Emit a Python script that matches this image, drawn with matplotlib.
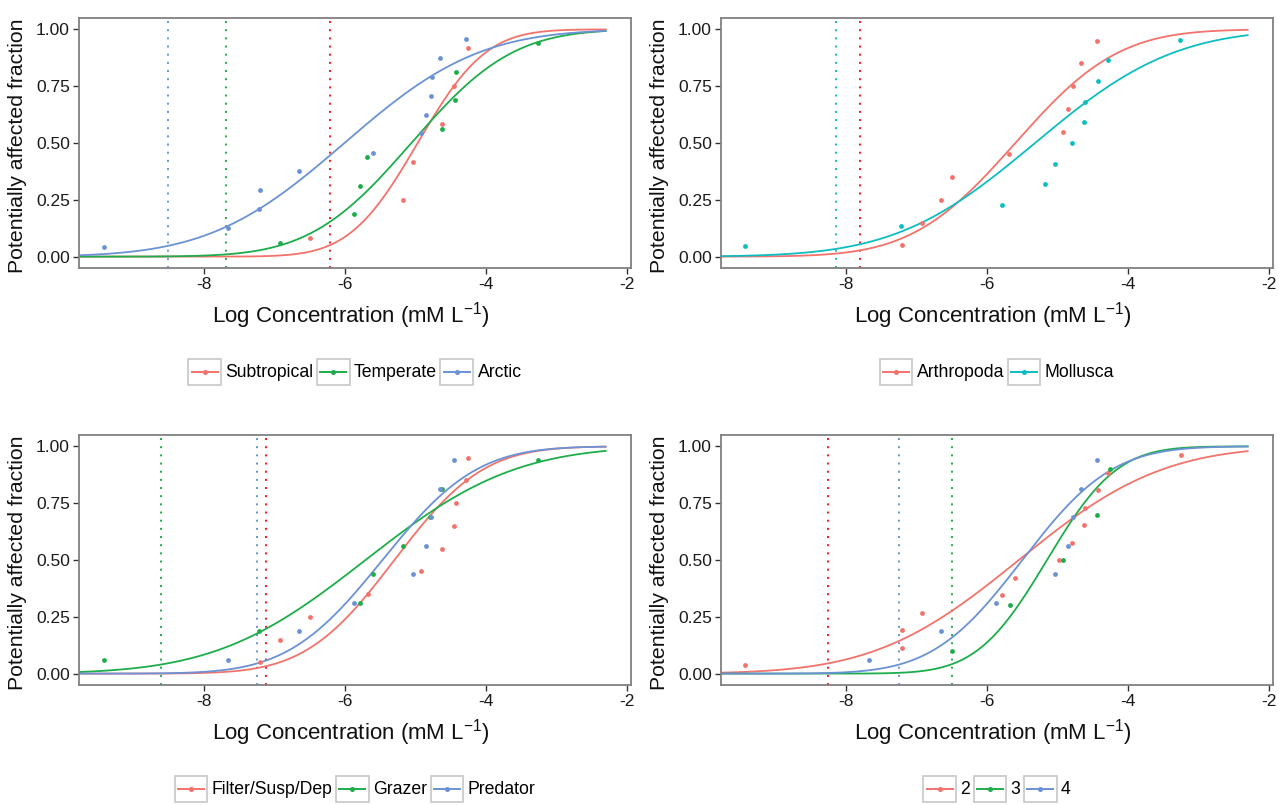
import math
import numpy as np
import matplotlib
matplotlib.use("Agg")
import matplotlib.pyplot as plt
from matplotlib.lines import Line2D
from matplotlib.patches import Rectangle
from matplotlib.legend_handler import HandlerBase

plt.rcParams['font.family'] = ['Liberation Sans', 'DejaVu Sans']
plt.rcParams['axes.unicode_minus'] = False
plt.rcParams['mathtext.fontset'] = 'custom'
plt.rcParams['mathtext.rm'] = 'Liberation Sans'
plt.rcParams['mathtext.it'] = 'Liberation Sans:italic'
plt.rcParams['mathtext.default'] = 'regular'

# ---------------- data ----------------
# Panel 1: climate zone
p1_labels = ["Subtropical", "Temperate", "Arctic"]
p1_sub_x = [-6.50, -5.18, -5.03, -4.62, -4.45, -4.25]
p1_sub_y = [0.083, 0.250, 0.417, 0.583, 0.750, 0.917]
p1_tem_x = [-6.92, -5.88, -5.79, -5.69, -4.63, -4.44, -4.42, -3.26]
p1_tem_y = [0.062, 0.188, 0.312, 0.438, 0.562, 0.688, 0.812, 0.938]
p1_arc_x = [-9.43, -7.67, -7.23, -7.21, -6.65, -5.60, -4.92, -4.85, -4.78, -4.77, -4.65, -4.29]
p1_arc_y = [0.042, 0.125, 0.208, 0.292, 0.375, 0.458, 0.542, 0.625, 0.708, 0.792, 0.875, 0.958]
p1_mean = [-4.97, -5.06, -6.01]
p1_sd = [0.76, 1.13, 1.50]
p1_hc5 = [-6.21, -7.69, -8.52]

# Panel 2: phylum
p2_labels = ["Arthropoda", "Mollusca"]
p2_art_x = [-7.21, -6.92, -6.65, -6.50, -5.69, -4.92, -4.85, -4.78, -4.66, -4.44]
p2_art_y = [0.050, 0.150, 0.250, 0.350, 0.450, 0.550, 0.650, 0.750, 0.850, 0.950]
p2_mol_x = [-9.44, -7.23, -5.79, -5.18, -5.03, -4.79, -4.63, -4.61, -4.42, -4.29, -3.26]
p2_mol_y = [0.045, 0.136, 0.227, 0.318, 0.409, 0.500, 0.591, 0.682, 0.773, 0.864, 0.955]
p2_mean = [-5.60, -5.32]
p2_sd = [1.15, 1.55]
p2_hc5 = [-7.80, -8.15]

# Panel 3: feeding type
p3_labels = ["Filter/Susp/Dep", "Grazer", "Predator"]
p3_fil_x = [-7.21, -6.92, -6.50, -5.68, -4.92, -4.62, -4.45, -4.42, -4.29, -4.25]
p3_fil_y = [0.050, 0.150, 0.250, 0.350, 0.450, 0.550, 0.650, 0.750, 0.850, 0.950]
p3_gra_x = [-9.43, -7.22, -5.79, -5.60, -5.18, -4.79, -4.63, -3.26]
p3_gra_y = [0.062, 0.188, 0.312, 0.438, 0.562, 0.688, 0.812, 0.938]
p3_pre_x = [-7.67, -6.65, -5.88, -5.03, -4.85, -4.78, -4.65, -4.45]
p3_pre_y = [0.062, 0.188, 0.312, 0.438, 0.562, 0.688, 0.812, 0.938]
p3_mean = [-5.30, -5.71, -5.47]
p3_sd = [0.99, 1.66, 1.05]
p3_hc5 = [-7.13, -8.62, -7.25]

# Panel 4: trophic level
p4_labels = ["2", "3", "4"]
p4_t2_x = [-9.44, -7.21, -7.21, -6.92, -5.79, -5.60, -4.98, -4.79, -4.63, -4.61, -4.42, -4.28, -3.25]
p4_t2_y = [0.038, 0.115, 0.192, 0.269, 0.346, 0.423, 0.500, 0.577, 0.654, 0.731, 0.808, 0.885, 0.962]
p4_t3_x = [-6.50, -5.68, -4.92, -4.44, -4.25]
p4_t3_y = [0.100, 0.300, 0.500, 0.700, 0.900]
p4_t4_x = [-7.68, -6.65, -5.88, -5.03, -4.85, -4.78, -4.66, -4.44]
p4_t4_y = [0.062, 0.188, 0.312, 0.438, 0.562, 0.688, 0.812, 0.938]
p4_mean = [-5.55, -5.15, -5.50]
p4_sd = [1.60, 0.78, 1.00]
p4_hc5 = [-8.26, -6.50, -7.25]

x_ticks = [-8, -6, -4, -2]
y_ticks = [0.0, 0.25, 0.5, 0.75, 1.0]
x_range = (-9.78, -2.30)

RED = '#F2736B'
GREEN = '#1DAD4B'
BLUE = '#6A92D4'
CYAN = '#0DBDC2'
VRED = '#F01A22'

panels = [
    dict(labels=p1_labels, xs=[p1_sub_x, p1_tem_x, p1_arc_x], ys=[p1_sub_y, p1_tem_y, p1_arc_y],
         mean=p1_mean, sd=p1_sd, hc5=p1_hc5, colors=[RED, GREEN, BLUE], vcolors=[VRED, GREEN, BLUE]),
    dict(labels=p2_labels, xs=[p2_art_x, p2_mol_x], ys=[p2_art_y, p2_mol_y],
         mean=p2_mean, sd=p2_sd, hc5=p2_hc5, colors=[RED, CYAN], vcolors=[VRED, CYAN]),
    dict(labels=p3_labels, xs=[p3_fil_x, p3_gra_x, p3_pre_x], ys=[p3_fil_y, p3_gra_y, p3_pre_y],
         mean=p3_mean, sd=p3_sd, hc5=p3_hc5, colors=[RED, GREEN, BLUE], vcolors=[VRED, GREEN, BLUE]),
    dict(labels=p4_labels, xs=[p4_t2_x, p4_t3_x, p4_t4_x], ys=[p4_t2_y, p4_t3_y, p4_t4_y],
         mean=p4_mean, sd=p4_sd, hc5=p4_hc5, colors=[RED, GREEN, BLUE], vcolors=[VRED, GREEN, BLUE]),
]


def norm_cdf(x, m, s):
    return np.array([0.5 * (1 + math.erf((v - m) / (s * math.sqrt(2)))) for v in x])


class BoxedHandler(HandlerBase):
    def create_artists(self, legend, orig_handle, xdescent, ydescent, width, height, fontsize, trans):
        x0, y0 = -xdescent, -ydescent
        rect = Rectangle((x0, y0), width, height, facecolor='white', edgecolor='#CCCCCC', lw=1.3,
                         transform=trans)
        yc = y0 + height / 2
        ln = Line2D([x0 + 0.1 * width, x0 + 0.9 * width], [yc, yc], color=orig_handle.get_color(),
                    lw=1.4, transform=trans)
        mk = Line2D([x0 + width / 2], [yc], marker='o', ms=2.6, color=orig_handle.get_color(),
                    lw=0, transform=trans)
        return [rect, ln, mk]


W, H = 1279, 805
fig = plt.figure(figsize=(W / 100, H / 100), dpi=100)
boxes = [(79, 18), (721, 18), (79, 435), (721, 435)]
aw, ah = 552, 250

xc = np.linspace(x_range[0], x_range[1], 300)
for (px, py), P in zip(boxes, panels):
    ax = fig.add_axes([px / W, 1 - (py + ah) / H, aw / W, ah / H])
    handles = []
    for i, lab in enumerate(P['labels']):
        ax.axvline(P['hc5'][i], color=P['vcolors'][i], lw=1.4, linestyle=(0, (1, 3.2)), zorder=1)
    for i, lab in enumerate(P['labels']):
        c = P['colors'][i]
        ax.plot(xc, norm_cdf(xc, P['mean'][i], P['sd'][i]), color=c, lw=1.3, zorder=2)
    for i, lab in enumerate(P['labels']):
        c = P['colors'][i]
        ax.scatter(P['xs'][i], P['ys'][i], s=12, color=c, lw=0, zorder=3)
        handles.append(Line2D([], [], color=c, label=lab))
    ax.set_xlim(-9.78, -1.94)
    ax.set_ylim(-0.05, 1.05)
    ax.set_xticks(x_ticks)
    ax.set_xticklabels([str(t) for t in x_ticks])
    ax.set_yticks(y_ticks)
    ax.set_yticklabels(['%.2f' % t for t in y_ticks])
    for s in ax.spines.values():
        s.set_color('#808080')
        s.set_linewidth(1.3)
    ax.tick_params(direction='out', length=4, width=1.0, color='#333333', labelsize=12.5,
                   labelcolor='#1a1a1a', pad=2.5)
    ax.set_xlabel('Log Concentration (mM L$^{-1}$)', fontsize=16, color='#111111', va='center')
    ax.xaxis.set_label_coords(0.493, -0.19)
    ax.set_ylabel('Potentially affected fraction', fontsize=15.3, color='#111111', va='center')
    ax.yaxis.set_label_coords(-0.111, 0.49)
    leg = ax.legend(handles=handles, loc='center', bbox_to_anchor=(0.5, -0.415), ncol=len(handles),
                    frameon=False, fontsize=12.7, handler_map={Line2D: BoxedHandler()},
                    handlelength=1.85, handleheight=1.85, handletextpad=0.25, columnspacing=0.2,
                    borderpad=0, labelspacing=0)

fig.savefig('out.png', dpi=100)
